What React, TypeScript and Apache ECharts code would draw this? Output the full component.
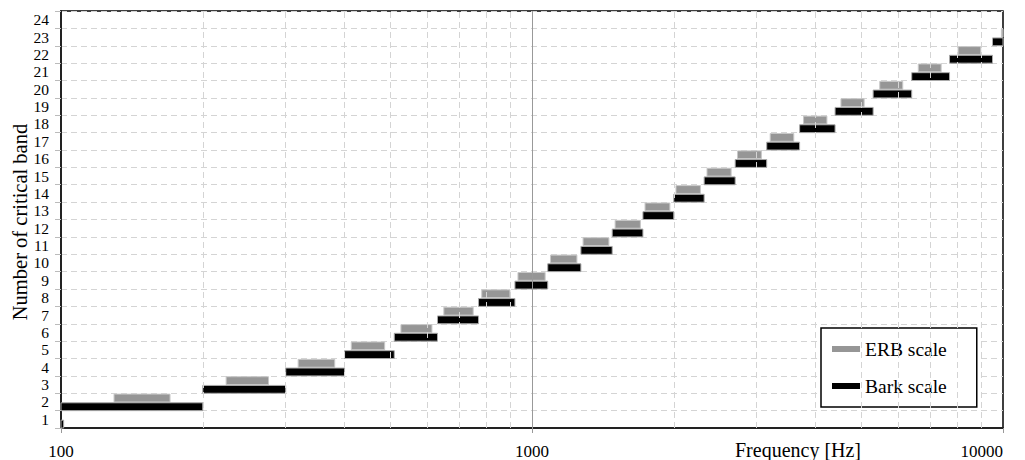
import React, { useEffect, useRef } from "react";
import * as echarts from "echarts";

// Band labels on the y axis
const bandLabels = ["1","2","3","4","5","6","7","8","9","10","11","12","13","14","15","16","17","18","19","20","21","22","23","24"];

// Bark scale critical bands (Hz), band 1 .. 23 (band 1 only shows as a stub at 100 Hz)
const barkLow = [100, 100, 200, 300, 400, 510, 630, 770, 920, 1080, 1270, 1480, 1720, 2000, 2320, 2700, 3150, 3700, 4400, 5300, 6400, 7700, 9500];
const barkHigh = [101.3, 200, 300, 400, 510, 630, 770, 920, 1080, 1270, 1480, 1720, 2000, 2320, 2700, 3150, 3700, 4400, 5300, 6400, 7700, 9500, 12000];

// ERB bands (Hz) around the same band centres; band 1 lies below 100 Hz
const erbLow = [null, 129.6, 224.2, 318.8, 413.4, 526.9, 649.9, 782.3, 933.7, 1094.5, 1283.7, 1501.3, 1737.8, 2021.6, 2352.7, 2731.1, 3204.2, 3771.8, 4528.6, 5474.6, 6609.9, 8028.9, 9921];
const erbHigh = [null, 170.4, 275.8, 381.2, 486.6, 613.1, 750.1, 897.7, 1066.3, 1245.5, 1456.3, 1698.7, 1962.2, 2278.4, 2647.3, 3068.9, 3595.8, 4228.2, 5071.4, 6125.4, 7390.1, 8971.1, 11079];

// Vertical grid lines on the log axis
const minorTicks = [200, 300, 400, 500, 600, 700, 800, 900, 2000, 3000, 4000, 5000, 6000, 7000, 8000, 9000];
const majorLine = 1000;

const FONT = "'Liberation Serif', 'DejaVu Serif', serif";

export default function App() {
  const ref = useRef<HTMLDivElement>(null);

  useEffect(() => {
    if (!ref.current) return;
    const chart = echarts.init(ref.current, null, { renderer: "svg" });

    const barkData: number[][] = [];
    barkLow.forEach((lo, i) => {
      barkData.push([lo, barkHigh[i], i, i + 0.45]);
    });
    const erbData: number[][] = [];
    erbLow.forEach((lo, i) => {
      if (lo == null || erbHigh[i] == null) return;
      erbData.push([lo, erbHigh[i] as number, i + 0.5, i + 0.95]);
    });

    const makeRender = (fill: string, stroke: string) => (params: any, api: any) => {
      const p0 = api.coord([api.value(0), api.value(2)]);
      const p1 = api.coord([api.value(1), api.value(3)]);
      const cs = params.coordSys;
      const shape = echarts.graphic.clipRectByRect(
        { x: p0[0], y: p1[1], width: p1[0] - p0[0], height: p0[1] - p1[1] },
        { x: cs.x, y: cs.y, width: cs.width, height: cs.height }
      );
      if (!shape) return null;
      return {
        type: "rect",
        shape,
        style: { fill, stroke, lineWidth: 1 },
      };
    };

    const option: any = {
      animation: false,
      backgroundColor: "#fff",
      textStyle: { fontFamily: FONT },
      grid: {
        left: 61,
        right: 22,
        top: 11,
        bottom: 32,
        show: true,
        borderColor: "#000",
        borderWidth: 1.5,
        backgroundColor: "transparent",
      },
      legend: {
        data: ["ERB scale", "Bark scale"],
        orient: "vertical",
        left: 821,
        top: 328,
        backgroundColor: "#fff",
        borderColor: "#000",
        borderWidth: 1.5,
        borderRadius: 0,
        padding: [11, 30, 11, 11],
        itemGap: 17,
        itemWidth: 28,
        itemHeight: 6,
        icon: "rect",
        selectedMode: false,
        textStyle: { fontFamily: FONT, fontSize: 19.5, color: "#000" },
      },
      xAxis: {
        type: "log",
        logBase: 10,
        min: 100,
        max: 10000,
        axisLine: { show: true, lineStyle: { color: "#222", width: 2 } },
        axisTick: { show: true, length: 5, lineStyle: { color: "#999" } },
        axisLabel: {
          fontFamily: FONT,
          fontSize: 17,
          lineHeight: 16,
          color: "#000",
          margin: 15,
          alignMaxLabel: "right",
          formatter: (v: number) => String(Math.round(v)),
        },
        splitLine: { show: false },
      },
      yAxis: [
        {
          type: "value",
          min: 0,
          max: 24,
          interval: 1,
          axisLine: { show: true, lineStyle: { color: "#222", width: 2 } },
          axisTick: { show: true, length: 6, lineStyle: { color: "#bbb" } },
          axisLabel: { show: false },
          splitLine: { show: true, lineStyle: { color: "#d4d4d4", type: [6, 4], width: 1 } },
        },
        {
          type: "category",
          data: bandLabels,
          position: "left",
          axisLine: { show: false },
          axisTick: { show: false },
          splitLine: { show: false },
          axisLabel: {
            fontFamily: FONT,
            fontSize: 15.5,
            lineHeight: 14,
            color: "#000",
            margin: 12,
            interval: 0,
          },
        },
      ],
      series: [
        {
          type: "line",
          name: "grid",
          data: [],
          z: 1,
          silent: true,
          markLine: {
            silent: true,
            symbol: "none",
            label: { show: false },
            lineStyle: { color: "#d4d4d4", type: [6, 4], width: 1 },
            data: [
              ...minorTicks.map((v) => ({ xAxis: v })),
              { xAxis: majorLine, lineStyle: { color: "#999", type: "solid", width: 1 } },
            ],
          },
        },
        {
          type: "custom",
          name: "ERB scale",
          z: 3,
          itemStyle: { color: "#969696" },
          renderItem: makeRender("#969696", "#c8c8c8"),
          encode: { x: [0, 1], y: [2, 3] },
          data: erbData,
        },
        {
          type: "custom",
          name: "Bark scale",
          z: 3,
          itemStyle: { color: "#000" },
          renderItem: makeRender("#000", "#aaaaaa"),
          encode: { x: [0, 1], y: [2, 3] },
          data: barkData,
        },
      ],
      graphic: [
        {
          type: "text",
          x: 20,
          y: 222,
          rotation: Math.PI / 2,
          style: {
            text: "Number of critical band",
            fontFamily: FONT,
            fontSize: 20.5,
            fill: "#000",
            align: "center",
            verticalAlign: "middle",
          },
        },
        {
          type: "text",
          x: 798,
          y: 450,
          style: {
            text: "Frequency [Hz]",
            fontFamily: FONT,
            fontSize: 20,
            lineHeight: 18,
            fill: "#000",
            align: "center",
            verticalAlign: "middle",
          },
        },
      ],
    };

    chart.setOption(option);
    return () => chart.dispose();
  }, []);

  return (
    <div
      ref={ref}
      style={{ position: "fixed", left: 0, top: 0, width: 1025, height: 460 }}
    />
  );
}
